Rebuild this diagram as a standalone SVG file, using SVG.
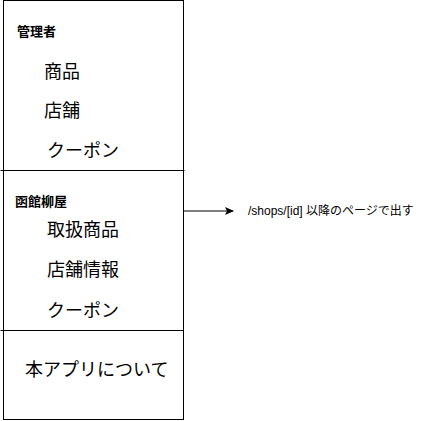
<svg xmlns="http://www.w3.org/2000/svg" width="425" height="421" viewBox="0 0 425 421">
  <defs>
    <style>
      .frame { fill: #ffffff; stroke: #000000; stroke-width: 1; }
      .line { fill: none; stroke: #000000; stroke-width: 1; }
      .head { font-family: "Noto Sans CJK JP", "Liberation Sans", sans-serif; font-size: 13px; font-weight: bold; fill: #000000; dominant-baseline: central; }
      .item { font-family: "Noto Sans CJK JP", "Liberation Sans", sans-serif; font-size: 18px; fill: #000000; dominant-baseline: central; }
      .note { font-family: "Liberation Sans", "Noto Sans CJK JP", sans-serif; font-size: 12px; fill: #000000; dominant-baseline: central; }
    </style>
    <marker id="arrow" markerWidth="10" markerHeight="10" refX="8" refY="5" orient="auto" markerUnits="userSpaceOnUse">
      <path d="M0,1 L9,5 L0,9 L2,5 Z" fill="#000000"/>
    </marker>
  </defs>
  <rect width="425" height="421" fill="#ffffff"/>
  <g id="menu">
    <rect class="frame" x="3.5" y="0.5" width="180" height="419"/>
  </g>
  <g id="admin">
    <line class="line" x1="0.5" y1="170.5" x2="184.5" y2="170.5"/>
    <text class="head" x="17" y="30">管理者</text>
    <text class="item" x="44" y="70">商品</text>
    <text class="item" x="44" y="109">店舗</text>
    <text class="item" x="47" y="149">クーポン</text>
  </g>
  <g id="shop">
    <line class="line" x1="0.5" y1="330.5" x2="183.5" y2="330.5"/>
    <text class="head" x="15" y="200">函館柳屋</text>
    <text class="item" x="47" y="228">取扱商品</text>
    <text class="item" x="47" y="268">店舗情報</text>
    <text class="item" x="47" y="309">クーポン</text>
  </g>
  <g id="about">
    <text class="item" x="25" y="368">本アプリについて</text>
  </g>
  <g id="connectors">
    <line class="line" x1="183.5" y1="211" x2="233" y2="211" marker-end="url(#arrow)"/>
  </g>
  <g id="note">
    <text class="note" x="248" y="211">/shops/[id] 以降のページで出す</text>
  </g>
</svg>
